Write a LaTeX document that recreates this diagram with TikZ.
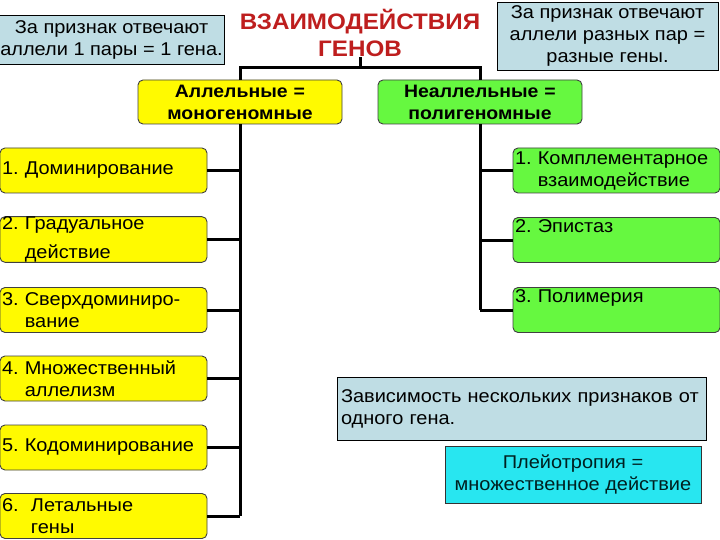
\documentclass[tikz,border=0pt]{standalone}
\usepackage{fontspec}
\setmainfont[FakeStretch=1.08]{Liberation Sans}
\usepackage{tikz}
\definecolor{allelyellow}{RGB}{255,250,0}
\definecolor{polygreen}{RGB}{102,248,64}
\definecolor{infoblue}{RGB}{191,221,228}
\definecolor{pleiocyan}{RGB}{40,230,240}
\definecolor{titlered}{RGB}{190,30,30}
\tikzstyle{line} = [draw, black, line width=3pt]
\frenchspacing

\begin{document}
\begin{tikzpicture}[x=1pt, y=-1pt,
			every node/.style={font=\fontsize{18.5}{22}\selectfont, inner ysep=0pt, inner xsep=2pt, outer sep=0pt},
			kind/.style={draw=black!75, line width=0.9pt, rounded corners=5pt, minimum width=207, minimum height=45, text width=203, align=left},
			ybox/.style={kind, fill=allelyellow},
			gbox/.style={kind, fill=polygreen},
			head/.style={draw=black!75, line width=0.9pt, rounded corners=5pt, minimum width=204, minimum height=44, text width=200, align=center, font=\fontsize{18}{22}\selectfont\bfseries},
			info/.style={draw=black, line width=0.9pt, fill=infoblue}]
			% Bildbereich
			\clip (0,0) rectangle (720,540);
			\fill[white] (0,0) rectangle (720,540);
			% Titel und Hinweise
			\node[text=titlered, align=center, font=\fontsize{22.4}{27}\selectfont\bfseries] (tit) at (360,33) {ВЗАИМОДЕЙСТВИЯ\\ГЕНОВ};
			\node[info, minimum width=223, minimum height=49, align=center] (inl) at (111.5,39.5) {За признак отвечают\\аллели 1 пары = 1 гена.};
			\node[info, minimum width=221, minimum height=68, align=center] (inr) at (607.5,36) {За признак отвечают\\аллели разных пар =\\разные гены.};
			% Hauptgruppen
			\node[head, fill=allelyellow] (al) at (240,102) {Аллельные =\\моногеномные};
			\node[head, fill=polygreen] (nal) at (480,102) {Неаллельные =\\полигеномные};
			\coordinate (hub) at (360,68);
			\draw[line] (al.north) |- (hub) -| (nal.north);
			\draw[line] (hub) -- (hub |- tit.south);
			% Allele (links)
			\foreach \i/\y/\label in {1/170.5/{1. Доминирование},
					2/239.5/{2. Градуальное\\[7pt]\hphantom{2.\ }действие},
					3/310/{3. Сверхдоминиро-\\\hphantom{3.\ }вание},
					4/378.5/{4. Множественный\\\hphantom{4.\ }аллелизм},
					5/447.5/{5. Кодоминирование},
					6/516/{6.\ \ Летальные\\\hphantom{6.\ \ }гены}}
				\node[ybox] (l\i) at (103.5,\y) {\label};
			\draw[line] (al.south) -- (al.south |- l6.east);
			\foreach \i in {1,...,6} \draw[line] (l\i.east) -- (al.south |- l\i.east);
			% Nichtallele (rechts)
			\foreach \i/\y/\label in {1/170.5/{1. Комплементарное\\\hphantom{1.\ }взаимодействие},
					2/240/{2. Эпистаз\\\strut},
					3/310/{3. Полимерия\\\strut}}
				\node[gbox] (r\i) at (616.5,\y) {\label};
			\draw[line] (nal.south) -- (nal.south |- r3.west);
			\foreach \i in {1,2,3} \draw[line] (r\i.west) -- (nal.south |- r\i.west);
			% Pleiotropie
			\node[info, minimum width=369, minimum height=63, text width=361, align=left, inner xsep=4pt] (dep) at (521.5,408.5) {Зависимость нескольких признаков от\\одного гена.};
			\node[draw=black!80, line width=0.9pt, fill=pleiocyan, text=black!75!teal, minimum width=256, minimum height=57, align=center] (ple) at (573,474.5) {Плейотропия =\\множественное действие};
		\end{tikzpicture}
\end{document}
